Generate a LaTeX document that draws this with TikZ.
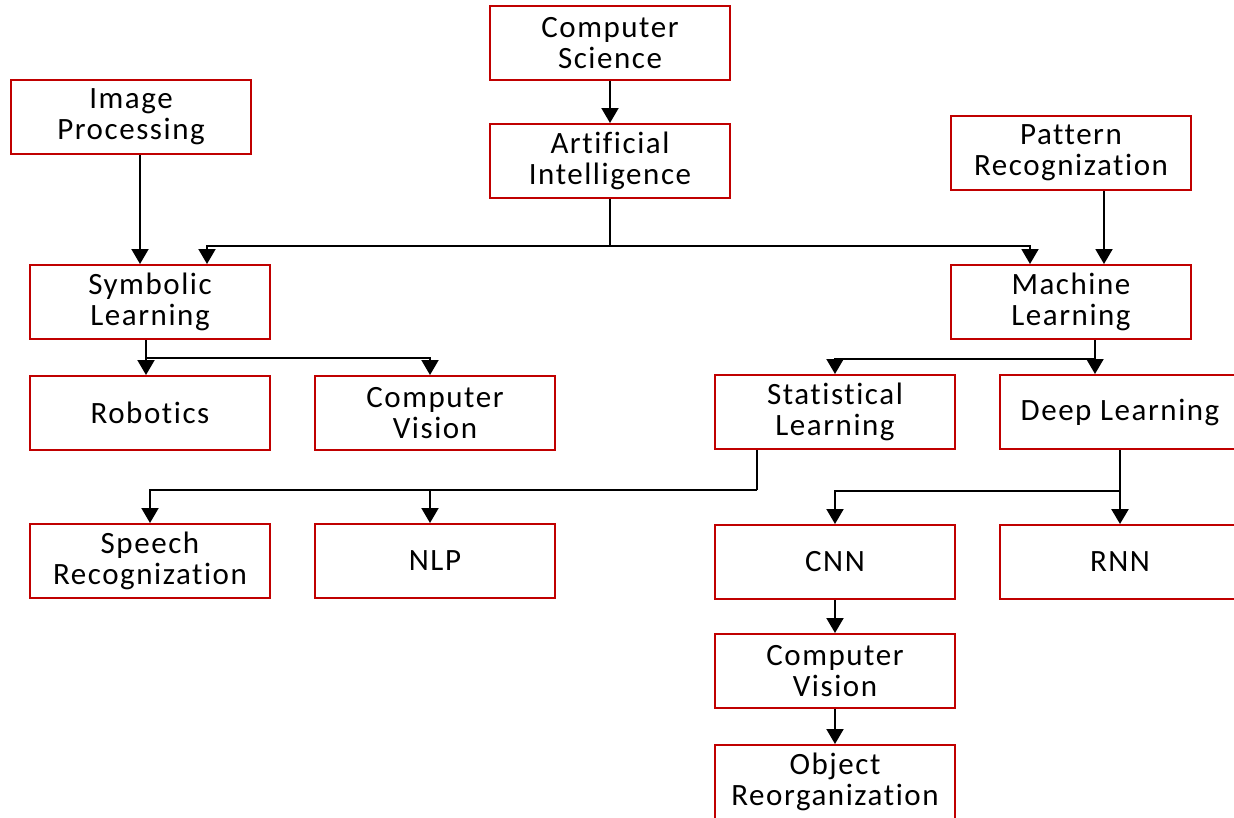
\documentclass[tikz,border=0pt]{standalone}
\usepackage{fontspec}
\setmainfont{Carlito}[LetterSpace=5,Ligatures={NoCommon}]
\usepackage{tikz}
\usetikzlibrary{arrows.meta}
\definecolor{boxred}{RGB}{192,0,0}

\tikzset{
  topic/.style={draw=boxred,line width=2pt,fill=white,minimum height=74pt,minimum width=240pt,
    align=center,font=\fontsize{31}{31}\selectfont},
  link/.style={line width=2pt,-{Triangle[width=17pt,length=15pt]}},
  stem/.style={line width=2.6pt}
}

\begin{document}
\begin{tikzpicture}[x=1pt,y=-1pt]
 \useasboundingbox (0,0) rectangle (1234,817);
 % boxes
 \node[topic](cs) at (610,43){Computer\\Science};
 \node[topic](ai) at (610,161){Artificial\\Intelligence};
 \node[topic](ip) at (131,117){Image\\Processing};
 \node[topic](pr) at (1071,153){Pattern\\Recognization};
 \node[topic](sl) at (150,302){Symbolic\\Learning};
 \node[topic](ml) at (1071,302){Machine\\Learning};
 \node[topic](rob) at (150,413){Robotics};
 \node[topic](cvl) at (435,413){Computer\\Vision};
 \node[topic](stl) at (835,412){Statistical\\Learning};
 \node[topic](dl) at (1120,412){Deep Learning};
 \node[topic](sr) at (150,561){Speech\\Recognization};
 \node[topic](nlp) at (435,561){NLP};
 \node[topic](cnn) at (835,562){CNN};
 \node[topic](rnn) at (1120,562){RNN};
 \node[topic](cvr) at (835,671){Computer\\Vision};
 \node[topic](obj) at (835,782){Object\\Reorganization};
 % arrows
 \draw[link] (cs) -- (ai);
 \draw[stem] (ai.south) -- ++(0,47) coordinate (aisplit);
 \draw[link] (aisplit) -| ([xshift=57]sl.north);
 \draw[link] (aisplit) -| ([xshift=-41]ml.north);
 \draw[link] ([xshift=9]ip.south) -- ([xshift=-10]sl.north);
 \draw[link] ([xshift=33]pr.south) -- ([xshift=33]ml.north);
 \draw[stem] ([xshift=-4]sl.south) -- ++(0,18) coordinate (slsplit);
 \draw[link] (slsplit) -| ([xshift=-4]rob.north);
 \draw[link] (slsplit) -| ([xshift=-5]cvl.north);
 \draw[stem] ([xshift=24]ml.south) -- ++(0,19) coordinate (mlsplit);
 \draw[link] (mlsplit) -| (stl.north);
 \draw[link] (mlsplit) -| ([xshift=-25]dl.north);
 \draw[line width=2pt] ([xshift=-78]stl.south) -- ++(0,40) coordinate (stlsplit);
 \draw[link] (stlsplit) -| (sr.north);
 \draw[link] (stlsplit) -| ([xshift=-5]nlp.north);
 \draw[stem] (dl.south) -- ++(0,41) coordinate (dlsplit);
 \draw[link] (dlsplit) -| (cnn.north);
 \draw[link,line width=2.6pt] (dlsplit) -- (rnn.north);
 \draw[link] (cnn) -- (cvr);
 \draw[link] (cvr) -- (obj);
\end{tikzpicture}
\end{document}
